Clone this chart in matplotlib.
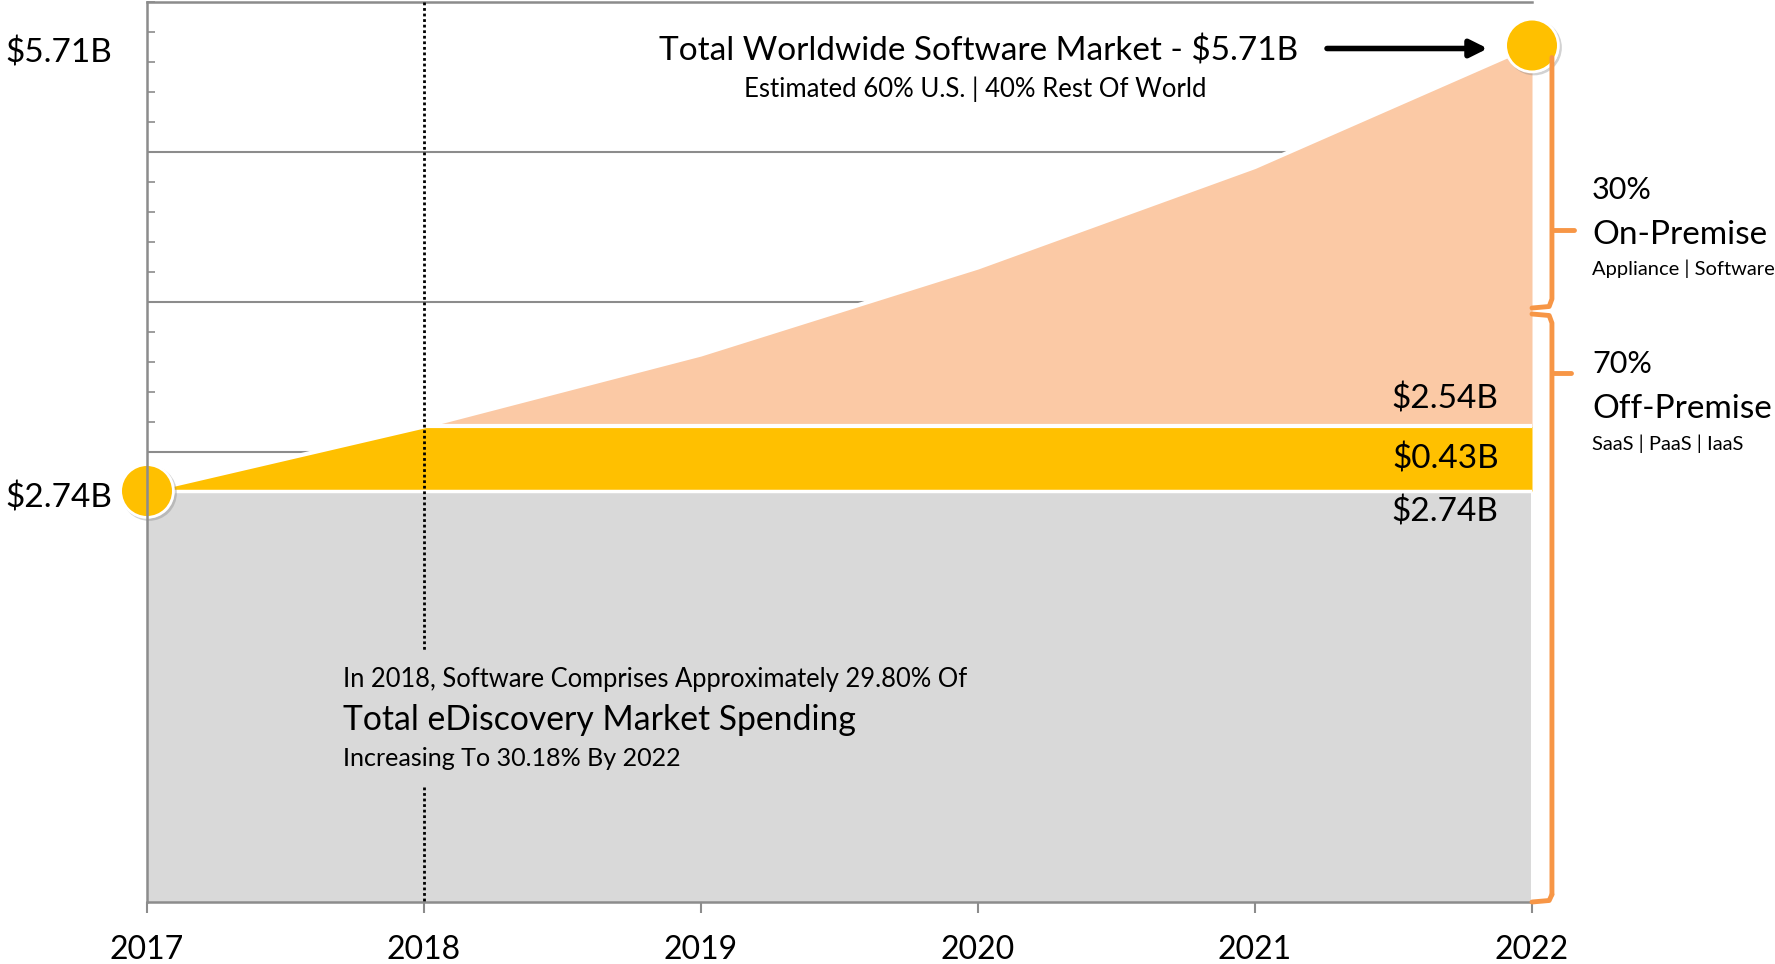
import matplotlib.pyplot as plt
import matplotlib.patheffects as pe

plt.rcParams["font.family"] = ["Lato", "DejaVu Sans"]

# data (billions USD)
years = [2017, 2018, 2019, 2020, 2021, 2022]
base = [2.74, 2.74, 2.74, 2.74, 2.74, 2.74]
band = [0.00, 0.43, 0.43, 0.43, 0.43, 0.43]
total = [2.74, 3.17, 3.65, 4.23, 4.90, 5.71]

on_prem_share = "30%"
off_prem_share = "70%"

GRAY = "#D9D9D9"
YELLOW = "#FFC000"
PEACH = "#FBC9A5"
ORANGE = "#F79646"
AXIS = "#8C8C8C"

fig = plt.figure(figsize=(17.75, 9.64), dpi=100)
ax = fig.add_axes([147 / 1775, 62 / 964, 1385 / 1775, 900 / 964])

band_top = [b + d for b, d in zip(base, band)]

ax.fill_between(years, 0, base, color=GRAY, lw=0, zorder=2)
ax.fill_between(years, band_top, total, color=PEACH, lw=0, zorder=2)
ax.fill_between(years, base, band_top, color=YELLOW, lw=0, zorder=3)
# white separators
ax.plot(years, total, color="white", lw=3, zorder=4)
ax.plot(years[1:], band_top[1:], color="white", lw=3, zorder=4)
ax.plot(years, base, color="white", lw=2.5, zorder=4)
ax.plot([years[-1], years[-1]], [0, base[-1]], color="white", lw=1.5, zorder=4)

# markers at both ends (with a soft shadow)
ax.plot([years[0], years[-1]], [total[0], total[-1]], "o", ms=38,
        color=YELLOW, mec="white", mew=2, zorder=6, clip_on=False,
        path_effects=[pe.SimpleLineShadow(offset=(1.5, -1.5), shadow_color="gray",
                                          alpha=0.35), pe.Normal()])

# 2018 reference line, broken by the note
ax.plot([2018, 2018], [6, 1.67], color="black", ls=(0, (1, 1)), lw=2, zorder=5)
ax.plot([2018, 2018], [0.77, 0], color="black", ls=(0, (1, 1)), lw=2, zorder=5)

ax.set_xlim(2017, 2022)
ax.set_ylim(0, 6)
ax.set_xticks(years)
ax.set_xticklabels([str(y) for y in years], fontsize=23)
ax.set_yticks(range(0, 7))
ax.set_yticks([i * 0.2 for i in range(31)], minor=True)
ax.set_yticklabels([])
ax.grid(axis="y", which="major", color=AXIS, lw=1.5, zorder=1)
ax.set_axisbelow(True)
ax.tick_params(axis="x", direction="out", length=8, width=1.5, color=AXIS, pad=16)
ax.tick_params(axis="y", which="both", direction="in", length=6, width=1.2, color=AXIS)
for side in ("left", "bottom", "top"):
    ax.spines[side].set_color(AXIS)
    ax.spines[side].set_linewidth(1.8)
ax.spines["right"].set_visible(False)
ax.spines["left"].set_zorder(7)

# left value labels
ytr = ax.get_yaxis_transform()
ax.text(-0.102, total[-1] - 0.05, f"${total[-1]:.2f}B", transform=ytr, fontsize=24,
        ha="left", va="center")
ax.text(-0.102, total[0] - 0.05, f"${total[0]:.2f}B", transform=ytr, fontsize=24,
        ha="left", va="center")

# right-hand stack labels
ax.text(2021.88, band_top[-1] + 0.18, f"${total[-1] - band_top[-1]:.2f}B",
        fontsize=24, ha="right", va="center", zorder=8)
ax.text(2021.88, (base[-1] + band_top[-1]) / 2, f"${band[-1]:.2f}B",
        fontsize=24, ha="right", va="center", zorder=8)
ax.text(2021.88, base[-1] - 0.14, f"${base[-1]:.2f}B",
        fontsize=24, ha="right", va="center", zorder=8)

# title with arrow
ax.text(2021.155, 5.67, "Total Worldwide Software Market - $5.71B", fontsize=24,
        ha="right", va="center")
ax.text(2019.99, 5.42, "Estimated 60% U.S. | 40% Rest Of World", fontsize=18.5,
        ha="center", va="center")
ax.annotate("", xy=(2021.84, total[-1] - 0.02), xytext=(2021.26, total[-1] - 0.02),
            arrowprops=dict(arrowstyle="-|>", color="black", lw=4,
                            mutation_scale=26, shrinkA=0, shrinkB=0))

# note in the gray area
ax.text(2017.707, 1.48, "In 2018, Software Comprises Approximately 29.80% Of",
        fontsize=18.4, ha="left", va="center", zorder=8)
ax.text(2017.707, 1.21, "Total eDiscovery Market Spending", fontsize=24.3,
        ha="left", va="center", zorder=8)
ax.text(2017.707, 0.955, "Increasing To 30.18% By 2022", fontsize=18.1,
        ha="left", va="center", zorder=8)

# braces on the right
xb, xtip, x0 = 2022.072, 2022.15, 2022.0
bk = dict(color=ORANGE, lw=3.5, clip_on=False, solid_capstyle="round",
          solid_joinstyle="round", zorder=6)
ax.plot([xb, xb, xb - 0.01, x0], [5.63, 4.02, 3.97, 3.96], **bk)
ax.plot([xb, xtip], [4.48, 4.48], **bk)
ax.plot([x0, xb - 0.01, xb, xb], [3.92, 3.91, 3.86, 0.05], **bk)
ax.plot([xb, xb - 0.01, x0], [0.05, 0.01, 0.0], **bk)
ax.plot([xb, xtip - 0.01], [3.53, 3.53], **bk)

xr = 2022.217
ax.text(xr, 4.745, on_prem_share, fontsize=22, ha="left", va="center")
ax.text(xr, 4.445, "On-Premise", fontsize=24, ha="left", va="center")
ax.text(xr, 4.225, "Appliance | Software", fontsize=14.5, ha="left", va="center")
ax.text(xr, 3.585, off_prem_share, fontsize=22, ha="left", va="center")
ax.text(xr, 3.285, "Off-Premise", fontsize=24, ha="left", va="center")
ax.text(xr, 3.055, "SaaS | PaaS | IaaS", fontsize=14.5, ha="left", va="center")

fig.savefig("out.png", dpi=100)
